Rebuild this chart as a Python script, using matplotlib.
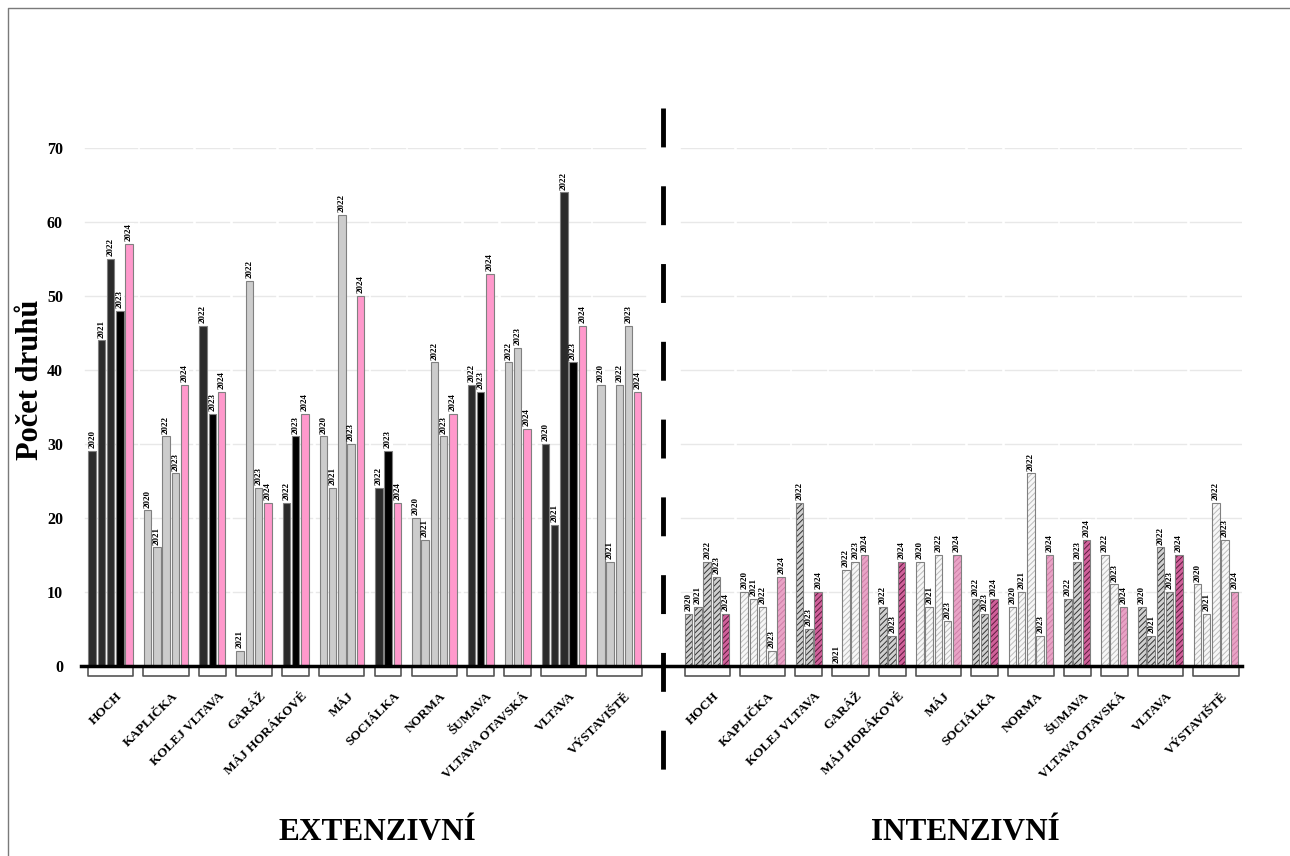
import numpy as np
import matplotlib
matplotlib.use('Agg')
from matplotlib import pyplot as plt
from matplotlib.transforms import blended_transform_factory

plt.rcParams['font.family'] = ['Liberation Serif', 'DejaVu Serif']
plt.rcParams['hatch.linewidth'] = 0.7

sites = ['HOCH', 'KAPLIČKA', 'KOLEJ VLTAVA', 'GARÁŽ', 'MÁJ HORÁKOVÉ', 'MÁJ',
         'SOCIÁLKA', 'NORMA', 'ŠUMAVA', 'VLTAVA OTAVSKÁ', 'VLTAVA', 'VÝSTAVIŠTĚ']
site_years = [
    [2020, 2021, 2022, 2023, 2024],
    [2020, 2021, 2022, 2023, 2024],
    [2022, 2023, 2024],
    [2021, 2022, 2023, 2024],
    [2022, 2023, 2024],
    [2020, 2021, 2022, 2023, 2024],
    [2022, 2023, 2024],
    [2020, 2021, 2022, 2023, 2024],
    [2022, 2023, 2024],
    [2022, 2023, 2024],
    [2020, 2021, 2022, 2023, 2024],
    [2020, 2021, 2022, 2023, 2024],
]
extenzivni = [
    [29, 44, 55, 48, 57],
    [21, 16, 31, 26, 38],
    [46, 34, 37],
    [2, 52, 24, 22],
    [22, 31, 34],
    [31, 24, 61, 30, 50],
    [24, 29, 22],
    [20, 17, 41, 31, 34],
    [38, 37, 53],
    [41, 43, 32],
    [30, 19, 64, 41, 46],
    [38, 14, 38, 46, 37],
]
intenzivni = [
    [7, 8, 14, 12, 7],
    [10, 9, 8, 2, 12],
    [22, 5, 10],
    [0, 13, 14, 15],
    [8, 4, 14],
    [14, 8, 15, 6, 15],
    [9, 7, 9],
    [8, 10, 26, 4, 15],
    [9, 14, 17],
    [15, 11, 8],
    [8, 4, 16, 10, 15],
    [11, 7, 22, 17, 10],
]
# skupiny se střídají: tmavá / světlá
dark_site = [i % 2 == 0 for i in range(len(sites))]

fig = plt.figure(figsize=(12.9, 8.56), dpi=100)
ax = fig.add_axes([0.0628, 0.2223, 0.8998, 0.6048])

INT_OFFSET = 64.5
edge = '#808080'


def draw_part(values, offset, intensive):
    pos = offset
    for s, (yrs, vals) in enumerate(zip(site_years, values)):
        xs = pos + np.arange(len(yrs))
        dark = dark_site[s]
        for x, yr, v in zip(xs, yrs, vals):
            pink = yr == 2024
            if not intensive:
                if pink:
                    fc = '#ff99cc'
                elif dark:
                    fc = '#000000' if yr == 2023 else '#2b2b2b'
                else:
                    fc = '#cccccc'
                ax.bar(x, v, width=0.8, color=fc, edgecolor=edge, linewidth=0.8, zorder=3)
            else:
                if dark:
                    fc, hc = ('#d0609a', '#5e1a3e') if pink else ('#d0d0d0', '#333333')
                else:
                    fc, hc = ('#e9a3c6', '#cf7fa8') if pink else ('#f7f7f7', '#bdbdbd')
                ax.bar(x, v, width=0.8, color=fc, edgecolor=hc, hatch='//////',
                       linewidth=0, zorder=3)
                ax.bar(x, v, width=0.8, facecolor='none', edgecolor=edge,
                       linewidth=0.8, zorder=3)
            ax.annotate(str(yr), (x, v), xytext=(0, 2), textcoords='offset points',
                        rotation=90, ha='center', va='bottom', fontsize=6.5,
                        fontweight='bold', zorder=4,
                        bbox=dict(facecolor='white', edgecolor='none', pad=0.3))
        x0, x1 = xs[0], xs[-1]
        # mřížka jen nad skupinou
        for g in range(10, 80, 10):
            ax.plot([x0 - 0.8, x1 + 0.8], [g, g], color='#e8e8e8', lw=1, zorder=1)
        # závorka pod skupinou
        ax.plot([x0 - 0.45, x0 - 0.45, x1 + 0.45, x1 + 0.45], [-0.35, -1.4, -1.4, -0.35],
                color='#555555', lw=1.2, clip_on=False)
        ax.text((x0 + x1) / 2 + 0.6, -3.3, sites[s], rotation=45, ha='right', va='top',
                rotation_mode='anchor', fontsize=9.5, fontweight='bold')
        pos += len(yrs) + 1


draw_part(extenzivni, 0, False)
draw_part(intenzivni, INT_OFFSET, True)

ax.set_xlim(-1.2, 124.3)
ax.set_ylim(0, 70)
ax.set_yticks(range(0, 80, 10))
ax.set_yticklabels([str(v) for v in range(0, 80, 10)], fontweight='bold', fontsize=11.5)
ax.tick_params(axis='y', length=0, pad=13)
ax.set_xticks([])
for sp in ['left', 'right', 'top']:
    ax.spines[sp].set_visible(False)
ax.spines['bottom'].set_linewidth(2.5)
ax.spines['bottom'].set_zorder(5)

# svislá přerušovaná dělicí čára
tr = blended_transform_factory(ax.transData, fig.transFigure)
ax.plot([61.75, 61.75], [0.8738, 0.0713], transform=tr, color='black', lw=3.5,
        linestyle=(0, (8, 8)), clip_on=False, zorder=6)

fig.text(0.024, 0.556, 'Počet druhů', rotation=90, fontsize=22, fontweight='bold',
         ha='center', va='center')
fig.text(0.2922, 0.0269, 'EXTENZIVNÍ', fontsize=22.5, fontweight='bold', ha='center', va='center')
fig.text(0.748, 0.0269, 'INTENZIVNÍ', fontsize=22.5, fontweight='bold', ha='center', va='center')

# rámeček
fig.add_artist(plt.Line2D([8 / 1290, 8 / 1290, 1.0], [0.0, 1 - 8 / 856, 1 - 8 / 856],
                          color='#7a7a7a', lw=1, transform=fig.transFigure))

fig.savefig('out.png', dpi=100)
